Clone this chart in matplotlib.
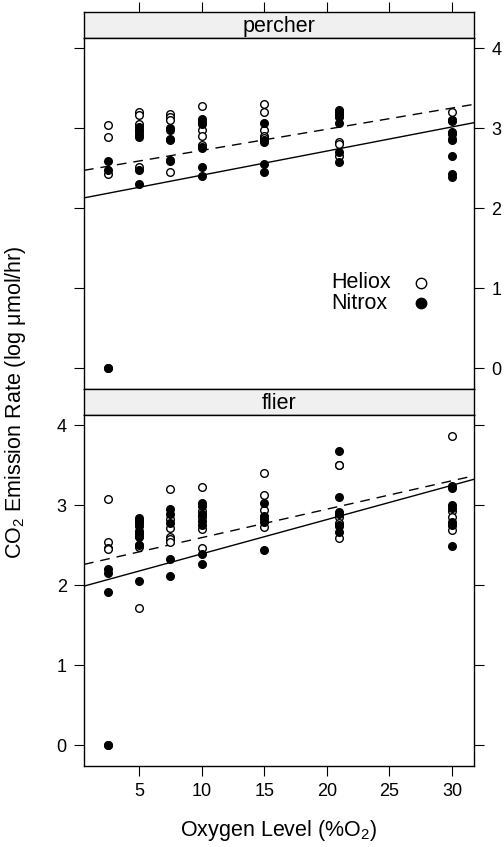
import matplotlib
matplotlib.use("Agg")
import matplotlib.pyplot as plt

plt.rcParams["font.family"] = ["Liberation Sans", "DejaVu Sans"]
plt.rcParams["mathtext.default"] = "regular"

# percher panel
percher_heliox_x = [2.5] * 4 + [5] * 6 + [7.5] * 5 + [10] * 4 + [15] * 5 + [21] * 6 + [30] * 4
percher_heliox_y = [3.04, 2.89, 2.43, 0,
                    3.20, 3.17, 3.05, 2.98, 2.92, 2.52,
                    3.18, 3.14, 3.11, 2.85, 2.46,
                    3.28, 2.98, 2.90, 2.79,
                    3.30, 3.20, 2.98, 2.91, 2.88,
                    3.23, 3.19, 3.16, 2.83, 2.80, 2.66,
                    3.20, 3.11, 3.09, 2.86]
percher_nitrox_x = [2.5] * 3 + [5] * 5 + [7.5] * 5 + [10] * 7 + [15] * 5 + [21] * 6 + [30] * 7
percher_nitrox_y = [2.59, 2.48, 0,
                    3.02, 2.95, 2.89, 2.475, 2.30,
                    3.00, 2.98, 2.87, 2.61, 2.59,
                    3.12, 3.08, 3.05, 2.77, 2.75, 2.52, 2.41,
                    3.07, 2.86, 2.83, 2.56, 2.45,
                    3.22, 3.18, 3.14, 3.07, 2.70, 2.58,
                    3.10, 2.95, 2.93, 2.87, 2.66, 2.43, 2.39]

# flier panel
flier_heliox_x = [2.5] * 5 + [5] * 7 + [7.5] * 6 + [10] * 5 + [15] * 5 + [21] * 6 + [30] * 5
flier_heliox_y = [3.075, 2.54, 2.47, 2.45, 0,
                  2.82, 2.78, 2.65, 2.60, 2.50, 2.48, 1.71,
                  3.20, 2.83, 2.72, 2.60, 2.575, 2.54,
                  3.23, 2.93, 2.85, 2.70, 2.47,
                  3.41, 3.13, 2.94, 2.83, 2.73,
                  3.51, 3.50, 2.85, 2.78, 2.75, 2.59,
                  3.87, 2.93, 2.86, 2.76, 2.69]
flier_nitrox_x = [2.5] * 4 + [5] * 7 + [7.5] * 5 + [10] * 7 + [15] * 4 + [21] * 6 + [30] * 7
flier_nitrox_y = [2.21, 2.15, 1.92, 0,
                  2.84, 2.80, 2.74, 2.68, 2.62, 2.51, 2.05,
                  2.95, 2.89, 2.78, 2.33, 2.12,
                  3.03, 2.99, 2.89, 2.80, 2.76, 2.39, 2.27,
                  3.03, 2.87, 2.79, 2.44,
                  3.68, 3.10, 2.92, 2.89, 2.74, 2.67,
                  3.24, 3.22, 3.00, 2.97, 2.79, 2.76, 2.49]

# fitted lines (intercept, slope)
percher_heliox_fit = (2.459, 0.0265)
percher_nitrox_fit = (2.112, 0.0302)
flier_heliox_fit = (2.24, 0.0356)
flier_nitrox_fit = (1.964, 0.0429)

x_ticks = [5, 10, 15, 20, 25, 30]
y_ticks = [0, 1, 2, 3, 4]

W, H = 504, 847
fig = plt.figure(figsize=(W / 100, H / 100), dpi=100)

label_size = 15.5
tick_size = 13


def box(l, t, r, b):
    return [l / W, 1 - b / H, (r - l) / W, (b - t) / H]


def draw_panel(ax, hx, hy, nx, ny, hfit, nfit):
    ax.plot(hx, hy, "o", ms=5.5, mfc="white", mec="black", mew=1, ls="none", zorder=3)
    ax.plot(nx, ny, "o", ms=5.5, mfc="black", mec="black", mew=1, ls="none", zorder=3)
    ax.axline((0, hfit[0]), slope=hfit[1], color="black", lw=1, dashes=(7, 5))
    ax.axline((0, nfit[0]), slope=nfit[1], color="black", lw=1)
    ax.set_xlim(0.6, 31.75)
    ax.set_ylim(-0.26, 4.13)
    ax.set_xticks(x_ticks)
    ax.set_yticks(y_ticks)
    for s in ax.spines.values():
        s.set_linewidth(1)
    ax.tick_params(length=7.5, width=0.8, labelsize=tick_size, direction="out", pad=5)


def draw_strip(ax, name):
    ax.set_facecolor("#f0f0f0")
    ax.set_xlim(0.6, 31.75)
    ax.set_yticks([])
    ax.set_xticks([])
    for s in ax.spines.values():
        s.set_linewidth(1)
    ax.text(0.5, 0.45, name, transform=ax.transAxes, ha="center", va="center",
            fontsize=label_size)


# top panel (percher)
strip1 = fig.add_axes(box(84, 12, 474, 38))
draw_strip(strip1, "percher")
strip1.set_xticks(x_ticks)
strip1.tick_params(axis="x", top=True, bottom=False, labeltop=False, labelbottom=False,
                   length=7.5, width=0.8, direction="out")

ax1 = fig.add_axes(box(84, 38, 474, 389))
draw_panel(ax1, percher_heliox_x, percher_heliox_y, percher_nitrox_x, percher_nitrox_y,
           percher_heliox_fit, percher_nitrox_fit)
ax1.tick_params(axis="x", bottom=False, labelbottom=False)
ax1.tick_params(axis="y", left=True, right=True, labelleft=False, labelright=True)

# legend
ax1.text(0.633, 0.302, "Heliox", transform=ax1.transAxes, ha="left", va="center",
         fontsize=label_size)
ax1.text(0.633, 0.245, "Nitrox", transform=ax1.transAxes, ha="left", va="center",
         fontsize=label_size)
ax1.plot([0.864], [0.302], "o", ms=7.5, mfc="white", mec="black", mew=1, transform=ax1.transAxes)
ax1.plot([0.864], [0.245], "o", ms=7.5, mfc="black", mec="black", mew=1, transform=ax1.transAxes)

# bottom panel (flier)
strip2 = fig.add_axes(box(84, 389, 474, 415))
draw_strip(strip2, "flier")

ax2 = fig.add_axes(box(84, 415, 474, 766))
draw_panel(ax2, flier_heliox_x, flier_heliox_y, flier_nitrox_x, flier_nitrox_y,
           flier_heliox_fit, flier_nitrox_fit)
ax2.tick_params(axis="y", left=True, right=True, labelleft=True, labelright=False)

fig.text(84 / W + 0.5 * 390 / W, 1 - 830 / H, "Oxygen Level (%O$_2$)",
         ha="center", va="center", fontsize=label_size)
fig.text(16 / W, 1 - 402 / H, "CO$_2$ Emission Rate (log \u03bcmol/hr)",
         ha="center", va="center", rotation=90, fontsize=label_size)

fig.savefig("out.png", dpi=100)
